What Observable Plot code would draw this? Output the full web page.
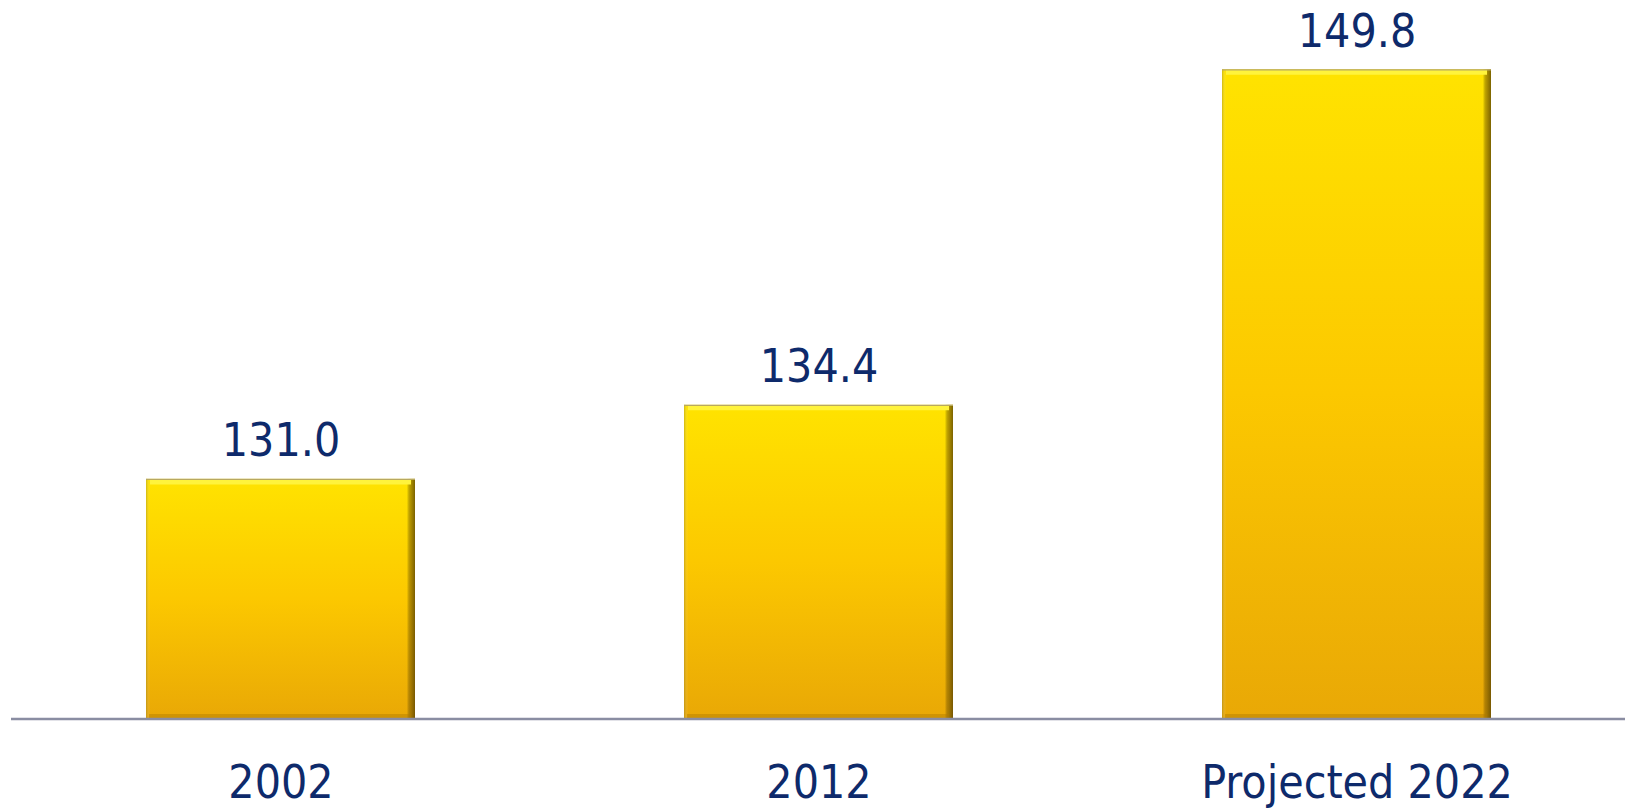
<!DOCTYPE html>
<html>
<head>
<meta charset="utf-8">
<script src="https://cdn.jsdelivr.net/npm/d3@7"></script>
<script src="https://cdn.jsdelivr.net/npm/@observablehq/plot@0.6"></script>
<style>
  html, body { margin: 0; padding: 0; background: #fff; }
  #chart svg { display: block; }
</style>
</head>
<body>
<div id="chart"></div>
<script>
const categories = ["2002", "2012", "Projected 2022"];
const values = [131.0, 134.4, 149.8];
const labels = ["131.0", "134.4", "149.8"];
const baseValue = [120];

const data = categories.map((c, i) => ({category: c, value: values[i], label: labels[i], base: baseValue[0]}));

const font = "'DejaVu Sans Condensed', 'DejaVu Sans', Tahoma, Verdana, sans-serif";
const navy = "#0E2A6B";

const chart = Plot.plot({
  width: 1625,
  height: 811,
  marginLeft: 11,
  marginRight: 0,
  marginTop: 65,
  marginBottom: 92.5,
  style: {fontFamily: font, color: navy, background: "#fff"},
  x: {domain: categories, paddingInner: 0.5, paddingOuter: 0.25, label: null},
  y: {domain: [120, 150], axis: null},
  marks: [
    Plot.barY(data, {x: "category", y1: "base", y2: "value", fill: "url(#barGradV)",
      style: {filter: "drop-shadow(2px 2px 2px rgba(0,0,0,0.35))"}}),
    Plot.barY(data, {x: "category", y1: "base", y2: "value", fill: "url(#barGradH)"}),
    Plot.tickY(data, {x: "category", y: "base", stroke: "#B07A00", strokeOpacity: 0.45, strokeWidth: 5, dy: -2.5, insetLeft: 3, insetRight: 4}),
    Plot.tickY(data, {x: "category", y: "value", stroke: "#FFF33C", strokeWidth: 5, dy: 2.5, insetLeft: 4, insetRight: 4}),
    Plot.tickY(data, {x: "category", y: "value", stroke: "#B8A860", strokeWidth: 1.2, dy: 0}),
    Plot.ruleY(baseValue, {stroke: "#8A8DA2", strokeWidth: 2.5}),
    Plot.text(data, {x: "category", y: "value", text: "label", lineAnchor: "bottom", dy: -23,
      fontSize: 46, fill: navy}),
    Plot.axisX({tickSize: 0, tickPadding: 46, fontSize: 46, color: navy})
  ]
});

// gradient defs
const svg = d3.select(chart);
const defs = svg.insert("defs", ":first-child");
const gv = defs.append("linearGradient").attr("id", "barGradV")
  .attr("x1", 0).attr("y1", 0).attr("x2", 0).attr("y2", 1);
gv.append("stop").attr("offset", "0%").attr("stop-color", "#FFE300");
gv.append("stop").attr("offset", "50%").attr("stop-color", "#FCC800");
gv.append("stop").attr("offset", "100%").attr("stop-color", "#E9A806");
const gh = defs.append("linearGradient").attr("id", "barGradH")
  .attr("x1", 0).attr("y1", 0).attr("x2", 1).attr("y2", 0);
gh.append("stop").attr("offset", "0%").attr("stop-color", "#7a6a20").attr("stop-opacity", 0.35);
gh.append("stop").attr("offset", "1.5%").attr("stop-color", "#ffffff").attr("stop-opacity", 0.0);
gh.append("stop").attr("offset", "97%").attr("stop-color", "#000000").attr("stop-opacity", 0.0);
gh.append("stop").attr("offset", "98.2%").attr("stop-color", "#6b4e00").attr("stop-opacity", 0.5);
gh.append("stop").attr("offset", "100%").attr("stop-color", "#5a4300").attr("stop-opacity", 0.8);

document.getElementById("chart").appendChild(chart);
</script>
</body>
</html>
